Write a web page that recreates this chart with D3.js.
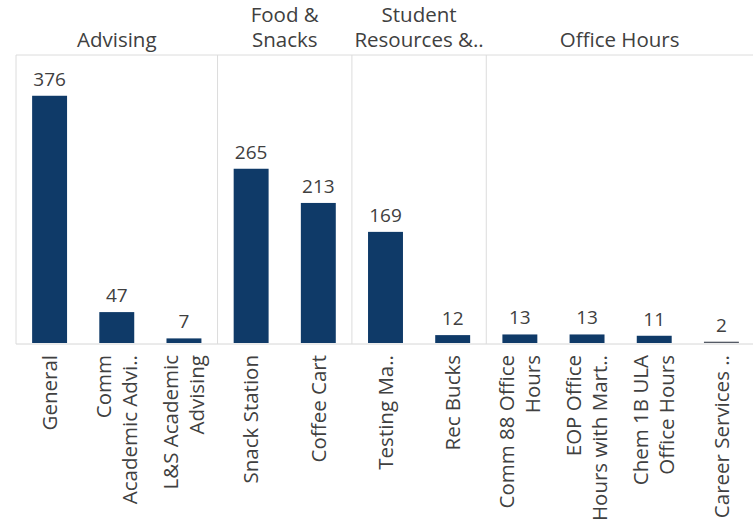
<!DOCTYPE html>
<html>
<head>
<meta charset="utf-8">
<script src="https://cdn.jsdelivr.net/npm/d3@7"></script>
<style>
  body { margin: 0; background: #fff; }
  text { font-family: "Open Sans", Lato, sans-serif; fill: #404040; }
</style>
</head>
<body>
<div id="chart"></div>
<script>
const groups = ["Advising", "Food & Snacks", "Student Resources &..", "Office Hours"];
const groupLines = [["Advising"], ["Food &", "Snacks"], ["Student", "Resources &.."], ["Office Hours"]];
const categories = ["General", "Comm Academic Advi..", "L&S Academic Advising", "Snack Station", "Coffee Cart",
  "Testing Ma..", "Rec Bucks", "Comm 88 Office Hours", "EOP Office Hours with Mart..", "Chem 1B ULA Office Hours", "Career Services .."];
const catLines = [["General"], ["Comm", "Academic Advi.."], ["L&S Academic", "Advising"], ["Snack Station"], ["Coffee Cart"],
  ["Testing Ma.."], ["Rec Bucks"], ["Comm 88 Office", "Hours"], ["EOP Office", "Hours with Mart.."], ["Chem 1B ULA", "Office Hours"], ["Career Services .."]];
const catGroup = [0, 0, 0, 1, 1, 2, 2, 3, 3, 3, 3];
const values = [376, 47, 7, 265, 213, 169, 12, 13, 13, 11, 2];

const width = 753, height = 526;
const left = 16, right = 755, headerY = 55, baseY = 343;

const svg = d3.select("#chart")
  .append("svg")
  .attr("width", width)
  .attr("height", height);

const x = d3.scaleBand()
  .domain(categories)
  .range([left, right])
  .paddingInner(0.48)
  .paddingOuter(0.24);

const y = d3.scaleLinear()
  .domain([0, 438])
  .range([baseY, headerY]);

const step = x.step();
const cellLeft = i => x(categories[i]) - step * 0.24;

// group extents
const groupRange = groups.map((g, gi) => {
  const idx = catGroup.map((d, i) => d === gi ? i : -1).filter(i => i >= 0);
  return [cellLeft(idx[0]), cellLeft(idx[idx.length - 1]) + step];
});

// frame lines
svg.append("line")
  .attr("x1", left).attr("x2", right)
  .attr("y1", headerY).attr("y2", headerY)
  .attr("stroke", "#dcdcdc");

svg.append("line")
  .attr("x1", left).attr("x2", right)
  .attr("y1", baseY + 1).attr("y2", baseY + 1)
  .attr("stroke", "#d6d6d6");

svg.selectAll(".divider")
  .data(groupRange)
  .join("line")
    .attr("class", "divider")
    .attr("x1", d => d[0]).attr("x2", d => d[0])
    .attr("y1", headerY).attr("y2", baseY + 1)
    .attr("stroke", "#dcdcdc");

// group headers
const headers = svg.selectAll(".header")
  .data(groupLines)
  .join("text")
    .attr("class", "header")
    .attr("text-anchor", "middle")
    .attr("font-size", 20.5)
    .attr("x", (d, i) => (groupRange[i][0] + Math.min(groupRange[i][1], width)) / 2)
    .attr("y", 47);

headers.selectAll("tspan")
  .data(d => d.map((t, i) => ({ t, off: (i - (d.length - 1)) * 25 })))
  .join("tspan")
    .attr("x", function() { return this.parentNode.getAttribute("x"); })
    .attr("dy", (d, i) => i === 0 ? d.off : 25)
    .text(d => d.t);

// bars
svg.selectAll(".bar")
  .data(values)
  .join("rect")
    .attr("class", "bar")
    .attr("x", (d, i) => x(categories[i]))
    .attr("width", x.bandwidth())
    .attr("y", d => y(d))
    .attr("height", d => baseY - y(d))
    .attr("fill", (d, i) => i === 10 ? "#555b66" : "#0f3a68");

// value labels
svg.selectAll(".value")
  .data(values)
  .join("text")
    .attr("class", "value")
    .attr("text-anchor", "middle")
    .attr("font-size", 19)
    .attr("x", (d, i) => x(categories[i]) + x.bandwidth() / 2)
    .attr("y", d => y(d) - 10)
    .text(d => d);

// category labels
const labels = svg.selectAll(".cat")
  .data(catLines)
  .join("text")
    .attr("class", "cat")
    .attr("text-anchor", "end")
    .attr("font-size", 20.5)
    .attr("transform", (d, i) => `translate(${x(categories[i]) + x.bandwidth() / 2},355) rotate(-90)`);

labels.selectAll("tspan")
  .data(d => d.map((t, i) => ({ t, off: (i - (d.length - 1) / 2) * 26 })))
  .join("tspan")
    .attr("x", 0)
    .attr("y", d => d.off)
    .attr("dy", "0.35em")
    .text(d => d.t);
</script>
</body>
</html>
